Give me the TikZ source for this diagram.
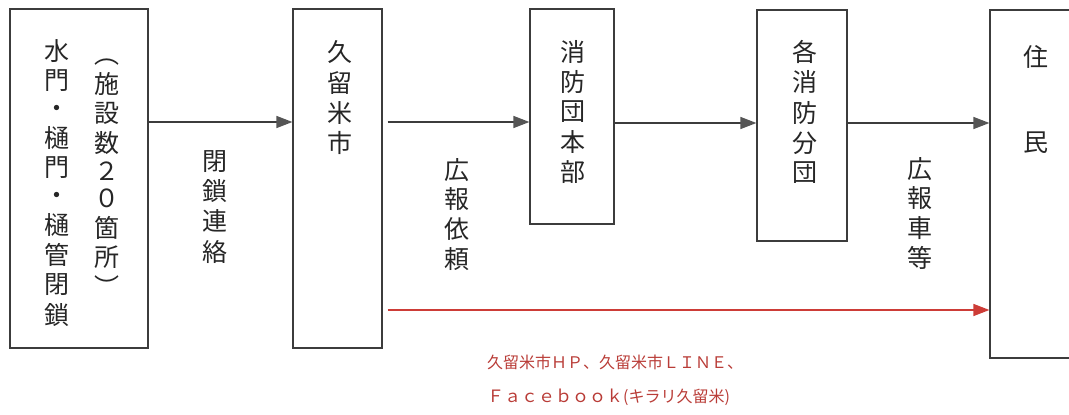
\documentclass[tikz,border=0pt]{standalone}
\usepackage{fontspec}
\newfontfamily\cjk{Noto Sans CJK JP}
\usetikzlibrary{arrows.meta}
\definecolor{linegray}{RGB}{60,60,60}
\definecolor{headgray}{RGB}{85,85,85}
\definecolor{redline}{RGB}{205,60,55}
\definecolor{redtext}{RGB}{185,60,55}
\tikzset{
  box/.style={draw=linegray, line width=1.2pt, minimum width=#1, inner sep=0pt},
  vcol/.style={align=center, inner sep=0pt, text=black!85},
  arr/.style={draw=linegray, line width=1.4pt, -{Triangle[length=16pt,width=12pt,fill=headgray,color=headgray]}},
  redarr/.style={draw=redline, line width=1.4pt, -{Triangle[length=16pt,width=12pt,fill=redline,color=redline]}},
}
\begin{document}
\begin{tikzpicture}[x=1pt,y=-1pt]
\useasboundingbox (0,0) rectangle (1069,415);
\clip (0,0) rectangle (1069,415);
% boxes
\node[box=138pt, minimum height=339pt] (b1) at (79,178.5) {};
\node[box=89pt, minimum height=339pt] (b2) at (337.5,178.5) {};
\node[box=84pt, minimum height=215pt] (b3) at (572,116.5) {};
\node[box=90pt, minimum height=231pt] (b4) at (802,125.5) {};
\node[box=90pt, minimum height=348pt] (b5) at (1035,184) {};
% box texts
\node[vcol, font=\cjk\fontsize{25}{27.6}\selectfont] (t1a) at (57,186)
  {\strut 水\\\strut 門\\\strut ・\\\strut 樋\\\strut 門\\\strut ・\\\strut 樋\\\strut 管\\\strut 閉\\\strut 鎖};
\node[vcol, font=\cjk\fontsize{25}{26}\selectfont] (t1b) at (107,175)
  {\strut ︵\\\strut 施\\\strut 設\\\strut 数\\\strut ２\\\strut ０\\\strut 箇\\\strut 所\\\strut ︶};
\node[vcol, font=\cjk\fontsize{25}{27.7}\selectfont] (t2) at (340,101)
  {\strut 久\\\strut 留\\\strut 米\\\strut 市};
\node[vcol, font=\cjk\fontsize{25}{28.2}\selectfont] (t3) at (573,115)
  {\strut 消\\\strut 防\\\strut 団\\\strut 本\\\strut 部};
\node[vcol, font=\cjk\fontsize{25}{28}\selectfont] (t4) at (805,115)
  {\strut 各\\\strut 消\\\strut 防\\\strut 分\\\strut 団};
\node[vcol, font=\cjk\fontsize{25}{25}\selectfont] (t5a) at (1036,57) {住};
\node[vcol, font=\cjk\fontsize{25}{25}\selectfont] (t5b) at (1036,143) {民};
% labels
\node[vcol, font=\cjk\fontsize{25}{27.7}\selectfont] (l1) at (215,210)
  {\strut 閉\\\strut 鎖\\\strut 連\\\strut 絡};
\node[vcol, font=\cjk\fontsize{25}{25.5}\selectfont] (l2) at (457,217)
  {\strut 広\\\strut 報\\\strut 依\\\strut 頼};
\node[vcol, font=\cjk\fontsize{25}{25.7}\selectfont] (l3) at (920,216)
  {\strut 広\\\strut 報\\\strut 車\\\strut 等};
% arrows
\draw[arr] (b1.east |- 0,122) -- (b2.west |- 0,122);
\draw[arr, shorten <=5pt] (b2.east |- 0,122) -- (b3.west |- 0,122);
\draw[arr] (b3.east |- 0,123) -- (b4.west |- 0,123);
\draw[arr] (b4.east |- 0,123) -- (b5.west |- 0,123);
\draw[redarr, shorten <=5pt] (b2.east |- 0,310) -- (b5.west |- 0,310);
% red text
\node[anchor=west, inner sep=0pt, text=redtext, font=\cjk\fontsize{16}{16}\selectfont] (r1) at (487,362)
  {久留米市ＨＰ、久留米市ＬＩＮＥ、};
\node[anchor=west, inner sep=0pt, text=redtext, font=\cjk] (r2) at (487,397)
  {{\fontsize{17}{17}\selectfont Ｆａｃｅｂｏｏｋ}{\fontsize{16}{16}\selectfont (キラリ久留米)}};
\end{tikzpicture}
\end{document}
